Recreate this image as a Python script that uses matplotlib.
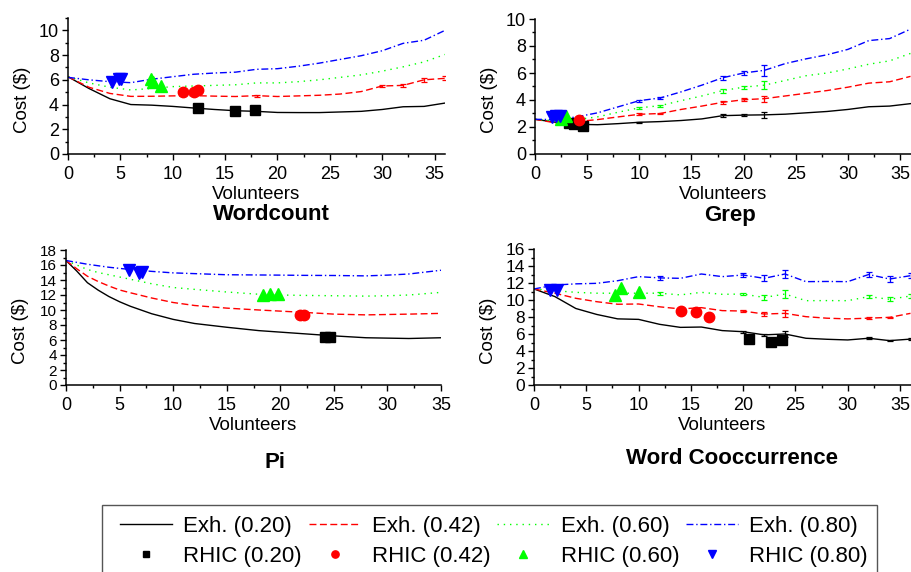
import matplotlib
matplotlib.use('Agg')
import matplotlib.pyplot as plt
import numpy as np
from matplotlib.patches import Rectangle
from matplotlib.ticker import MultipleLocator

plt.rcParams['font.family'] = ['Liberation Sans', 'DejaVu Sans']

labels = ['0.20', '0.42', '0.60', '0.80']
colors = ['black', '#ff0000', '#00ff00', '#0000ff']
dashes = [None, (5, 2.5), (1, 3.5), (5, 2, 1, 2)]
markers = ['s', 'o', '^', 'v']
msizes = [6.5, 7.5, 8.5, 8.5]

# --- Wordcount ---
wc_x = [0, 2, 4, 6, 8, 10, 12, 14, 16, 18, 20, 22, 24, 26, 28, 30, 32, 34, 36]
wc_exh = [
    [6.25, 5.3, 4.47, 4.0, 3.95, 3.85, 3.72, 3.6, 3.5, 3.45, 3.36, 3.35, 3.35, 3.4, 3.45, 3.6, 3.82, 3.85, 4.12],
    [6.25, 5.4, 4.9, 4.66, 4.67, 4.7, 4.72, 4.68, 4.65, 4.72, 4.65, 4.7, 4.75, 4.85, 5.05, 5.5, 5.55, 6.0, 6.12],
    [6.25, 5.75, 5.4, 5.18, 5.3, 5.45, 5.5, 5.55, 5.6, 5.75, 5.75, 5.85, 6.0, 6.2, 6.4, 6.7, 7.05, 7.45, 8.05],
    [6.2, 6.0, 5.85, 5.77, 6.05, 6.25, 6.45, 6.55, 6.62, 6.85, 6.9, 7.1, 7.35, 7.65, 7.95, 8.35, 8.95, 9.2, 10.0],
]
wc_err = [
    [0] * 19,
    [0, 0, 0, 0, 0, 0, 0, 0, 0, 0.08, 0, 0, 0, 0, 0, 0.1, 0.12, 0.15, 0.15],
    [0] * 19,
    [0] * 19,
]
wc_rhic_x = [[12.4, 15.9, 17.9], [11.0, 12.0, 12.4], [7.9, 8.1, 8.9], [4.2, 4.9, 5.1]]
wc_rhic_y = [[3.7, 3.45, 3.55], [5.0, 5.0, 5.2], [6.05, 5.85, 5.5], [5.8, 6.05, 6.05]]

# --- Grep ---
gr_x = [0, 2, 4, 6, 8, 10, 12, 14, 16, 18, 20, 22, 24, 26, 28, 30, 32, 34, 36]
gr_exh = [
    [2.57, 2.35, 2.2, 2.17, 2.25, 2.35, 2.4, 2.48, 2.6, 2.84, 2.88, 2.9, 2.95, 3.05, 3.15, 3.3, 3.5, 3.55, 3.73],
    [2.57, 2.3, 2.4, 2.55, 2.75, 2.94, 3.0, 3.3, 3.55, 3.83, 4.02, 4.1, 4.3, 4.5, 4.7, 4.95, 5.25, 5.35, 5.75],
    [2.57, 2.45, 2.55, 2.75, 3.1, 3.42, 3.58, 3.95, 4.3, 4.7, 4.95, 5.1, 5.45, 5.8, 6.0, 6.3, 6.65, 6.9, 7.45],
    [2.57, 2.55, 2.75, 3.05, 3.5, 3.95, 4.15, 4.6, 5.1, 5.65, 6.0, 6.2, 6.7, 7.05, 7.35, 7.75, 8.4, 8.55, 9.25],
]
gr_err = [
    [0, 0, 0, 0, 0, 0.05, 0, 0, 0, 0.1, 0.05, 0.2, 0, 0, 0, 0, 0, 0, 0],
    [0, 0, 0, 0, 0, 0.07, 0.07, 0, 0, 0.12, 0.1, 0.22, 0, 0, 0, 0, 0, 0, 0],
    [0, 0, 0, 0, 0, 0.08, 0.08, 0, 0, 0.15, 0.12, 0.3, 0, 0, 0, 0, 0, 0, 0],
    [0, 0, 0, 0, 0, 0.08, 0.08, 0, 0, 0.15, 0.12, 0.4, 0, 0, 0, 0, 0, 0, 0],
]
gr_rhic_x = [[3.3, 3.7, 4.6], [4.2], [2.5, 3.0], [1.6, 2.0, 2.4]]
gr_rhic_y = [[2.3, 2.25, 2.1], [2.5], [2.6, 2.8], [2.75, 2.85, 2.85]]

# --- Pi ---
pi_x = [0, 1, 2, 3, 4, 5, 6, 8, 10, 12, 15, 18, 20, 22, 25, 28, 30, 32, 35]
pi_exh = [
    [16.6, 15.2, 13.64, 12.65, 11.8, 11.1, 10.5, 9.5, 8.75, 8.2, 7.7, 7.25, 7.05, 6.85, 6.55, 6.3, 6.25, 6.2, 6.3],
    [16.6, 15.5, 14.5, 13.8, 13.2, 12.67, 12.3, 11.6, 11.0, 10.6, 10.25, 10.0, 9.85, 9.7, 9.45, 9.35, 9.4, 9.45, 9.55],
    [16.6, 16.0, 15.4, 15.0, 14.7, 14.4, 14.1, 13.5, 13.0, 12.75, 12.4, 12.1, 12.0, 11.95, 11.9, 11.85, 11.9, 12.0, 12.35],
    [16.6, 16.35, 16.1, 15.9, 15.7, 15.55, 15.4, 15.15, 14.95, 14.85, 14.7, 14.67, 14.65, 14.62, 14.6, 14.55, 14.65, 14.8, 15.3],
]
pi_err = [[0] * 19, [0] * 19, [0] * 19, [0] * 19]
pi_rhic_x = [[24.2, 24.6], [21.8, 22.2], [18.4, 19.0, 19.8], [5.9, 6.8, 7.1]]
pi_rhic_y = [[6.35, 6.4], [9.4, 9.4], [12.05, 12.1, 12.2], [15.3, 15.0, 15.1]]

# --- Word Cooccurrence ---
co_x = [0, 2, 4, 6, 8, 10, 12, 14, 16, 18, 20, 22, 24, 26, 28, 30, 32, 34, 36]
co_exh = [
    [11.3, 10.4, 9.0, 8.3, 7.78, 7.72, 7.14, 6.78, 6.82, 6.4, 6.27, 5.9, 6.0, 5.5, 5.38, 5.3, 5.5, 5.22, 5.4],
    [11.3, 10.8, 10.2, 9.8, 9.5, 9.53, 9.2, 8.95, 9.1, 8.75, 8.7, 8.35, 8.43, 8.04, 7.86, 7.78, 7.86, 7.96, 8.43],
    [11.3, 11.1, 10.9, 10.8, 10.8, 10.8, 10.8, 10.6, 10.9, 10.67, 10.7, 10.3, 10.7, 9.92, 9.93, 9.92, 10.4, 10.08, 10.47],
    [11.3, 11.76, 11.9, 11.96, 12.27, 12.75, 12.6, 12.55, 13.06, 12.75, 12.94, 12.55, 13.06, 12.16, 12.18, 12.16, 13.0, 12.47, 12.86],
]
co_err = [
    [0, 0, 0, 0, 0, 0, 0, 0, 0, 0, 0.12, 0.15, 0.35, 0, 0, 0, 0.1, 0.1, 0.08],
    [0, 0, 0, 0, 0, 0, 0, 0, 0, 0, 0.12, 0.2, 0.45, 0, 0, 0, 0.15, 0.05, 0],
    [0, 0, 0, 0, 0, 0, 0.2, 0, 0, 0, 0.15, 0.3, 0.45, 0, 0, 0, 0.15, 0.25, 0.2],
    [0, 0, 0, 0, 0, 0, 0.2, 0, 0, 0, 0.2, 0.35, 0.45, 0, 0, 0, 0.25, 0.3, 0.3],
]
co_rhic_x = [[20.6, 22.7, 23.7], [14.1, 15.5, 16.7], [7.7, 8.3, 10.0], [1.5, 2.2]]
co_rhic_y = [[5.4, 5.1, 5.3], [8.65, 8.55, 8.05], [10.55, 11.4, 11.0], [11.2, 11.15]]


def draw_panel(ax, x, exh, err, rx, ry, xmax, ymax, ysize=13):
    x = np.array(x)
    for i in range(4):
        y = np.array(exh[i])
        e = np.array(err[i])
        line, = ax.plot(x, y, color=colors[i], lw=1.0, label='Exh. (%s)' % labels[i])
        if dashes[i] is not None:
            line.set_dashes(dashes[i])
        m = e > 0
        if m.any():
            ax.errorbar(x[m], y[m], yerr=e[m], fmt='none', ecolor=colors[i],
                        elinewidth=0.9, capsize=2, capthick=0.9)
    for i in range(4):
        ax.plot(rx[i], ry[i], ls='none', marker=markers[i], ms=msizes[i],
                color=colors[i], mec=colors[i], label='RHIC (%s)' % labels[i])
    ax.set_xlim(0, xmax)
    ax.set_ylim(0, ymax)
    ax.xaxis.set_major_locator(MultipleLocator(5))
    ax.xaxis.set_minor_locator(MultipleLocator(2.5))
    ax.yaxis.set_major_locator(MultipleLocator(2))
    ax.yaxis.set_minor_locator(MultipleLocator(1))
    for s in ['top', 'right']:
        ax.spines[s].set_visible(False)
    for s in ['left', 'bottom']:
        ax.spines[s].set_linewidth(1.1)
    ax.tick_params(which='major', direction='out', length=4, width=1)
    ax.tick_params(which='minor', direction='out', length=2.5, width=1)
    ax.tick_params(axis='x', which='major', pad=5, labelsize=13)
    ax.tick_params(axis='y', which='major', pad=2.5, labelsize=ysize)
    ax.set_xlabel('Volunteers', fontsize=13.5)
    ax.set_ylabel('Cost ($)', fontsize=13.5)
    ax.xaxis.set_label_coords(0.5, -0.235)
    ax.yaxis.set_label_coords(-0.099, 0.40)


fig = plt.figure(figsize=(9.11, 5.72), dpi=100)
W, H = 911.0, 572.0

ax1 = fig.add_axes([68 / W, 1 - 154 / H, 377 / W, 136 / H])
ax2 = fig.add_axes([535 / W, 1 - 154 / H, 375.5 / W, 135 / H])
ax3 = fig.add_axes([66 / W, 1 - 385 / H, 375 / W, 135 / H])
ax4 = fig.add_axes([534 / W, 1 - 385 / H, 376.5 / W, 136 / H])

draw_panel(ax1, wc_x, wc_exh, wc_err, wc_rhic_x, wc_rhic_y, 36, 11)
draw_panel(ax2, gr_x, gr_exh, gr_err, gr_rhic_x, gr_rhic_y, 36, 10)
draw_panel(ax3, pi_x, pi_exh, pi_err, pi_rhic_x, pi_rhic_y, 35, 18, ysize=11)
draw_panel(ax4, co_x, co_exh, co_err, co_rhic_x, co_rhic_y, 36, 16, ysize=12.5)

fig.text(271 / W, 1 - 215 / H, 'Wordcount', ha='center', va='center', fontsize=16, fontweight='bold')
fig.text(730 / W, 1 - 215 / H, 'Grep', ha='center', va='center', fontsize=16, fontweight='bold')
fig.text(275 / W, 1 - 462 / H, 'Pi', ha='center', va='center', fontsize=16, fontweight='bold')
fig.text(732 / W, 1 - 459 / H, 'Word Cooccurrence', ha='center', va='center', fontsize=16, fontweight='bold')

# legend box drawn by hand, bottom edge runs off the figure
fig.patches.append(Rectangle((102 / W, -0.05), 775 / W, 0.05 + 67 / H, transform=fig.transFigure,
                             fill=False, edgecolor='#555555', lw=1.0))

handles, labs = ax1.get_legend_handles_labels()
order = [0, 4, 1, 5, 2, 6, 3, 7]
leg = fig.legend([handles[k] for k in order], [labs[k] for k in order],
                 loc='upper left', bbox_to_anchor=(120 / W, 1 - 516 / H),
                 ncol=4, fontsize=16, handlelength=2.35, handletextpad=0.5,
                 columnspacing=0.3, labelspacing=0.4, markerscale=0.7,
                 frameon=False, borderpad=0, borderaxespad=0)

fig.savefig('out.png', dpi=100)
